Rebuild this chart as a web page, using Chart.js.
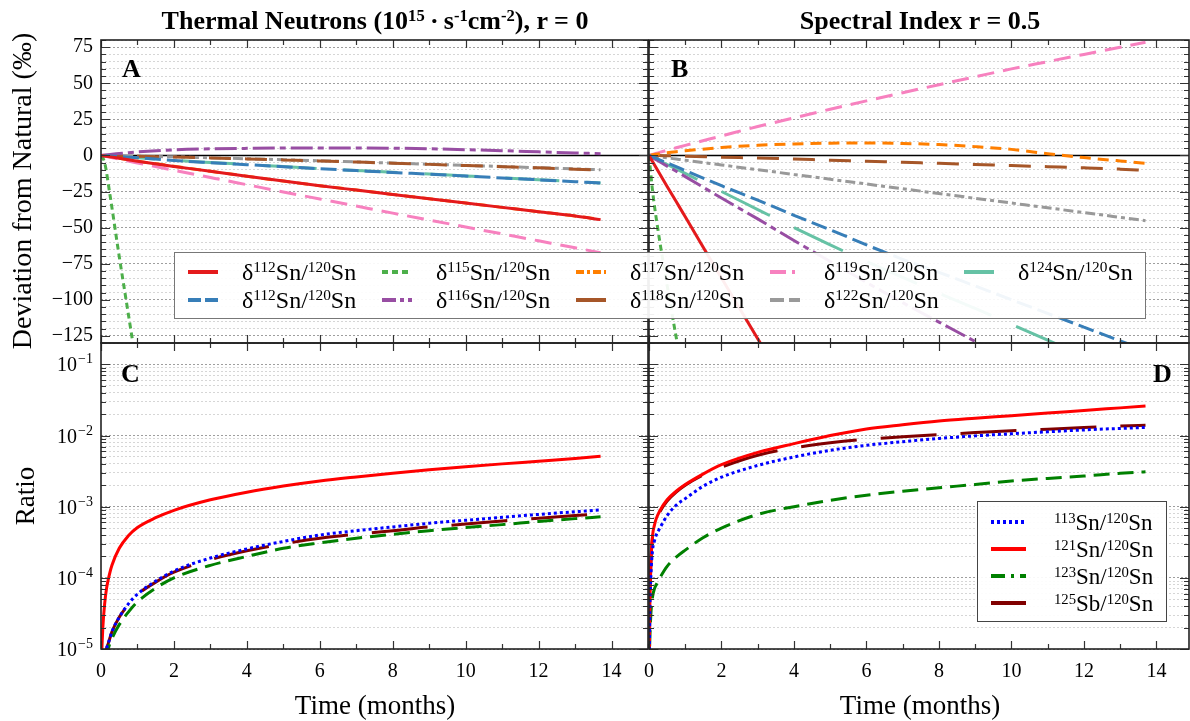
<!DOCTYPE html>
<html>
<head>
<meta charset="utf-8">
<title>Sn isotope deviations and ratios</title>
<script src="https://cdn.jsdelivr.net/npm/chart.js@4.4.1/dist/chart.umd.min.js"></script>
<style>
  html, body { margin: 0; padding: 0; background: #fff; }
  body { width: 1190px; height: 721px; position: relative; overflow: hidden;
         font-family: 'Liberation Serif', 'Times New Roman', serif; color: #000; }
  canvas { position: absolute; left: 0; top: 0; }
  .lbl { position: absolute; white-space: nowrap; line-height: 1; }
  .head { font-weight: bold; font-size: 26px; transform: translate(-50%, -50%); }
  .tag { font-weight: bold; font-size: 26px; transform: translateY(-50%); }
  .axt { font-size: 27px; transform: translate(-50%, -50%); }
  .vert { transform: translate(-50%, -50%) rotate(-90deg); }
  .up { font-size: 0.64em; position: relative; top: -0.5em; }
  .legend { position: absolute; background: rgba(255,255,255,0.93); border: 1px solid #777; box-sizing: border-box; }
  .key, .txt { position: absolute; transform: translateY(-50%); white-space: nowrap; line-height: 1; }
  .key svg { display: block; }
  .txt { font-size: 24px; }
  #ratioLegend .txt { font-size: 23px; }
</style>
</head>
<body>
<canvas id="panelA" width="1190" height="721"></canvas>
<canvas id="panelB" width="1190" height="721"></canvas>
<canvas id="panelC" width="1190" height="721"></canvas>
<canvas id="panelD" width="1190" height="721"></canvas>

<div class="lbl head" style="left:375px;top:21px">Thermal Neutrons (10<span class="up">15</span>&#8201;·&#8201;s<span class="up">-1</span>cm<span class="up">-2</span>), r = 0</div>
<div class="lbl head" style="left:920px;top:21px">Spectral Index r = 0.5</div>

<div class="lbl tag" style="left:122px;top:69px">A</div>
<div class="lbl tag" style="left:671px;top:69px">B</div>
<div class="lbl tag" style="left:121px;top:374px">C</div>
<div class="lbl tag" style="left:1153px;top:374px">D</div>

<div class="lbl axt vert" style="left:22px;top:191px;font-size:28px">Deviation from Natural (‰)</div>
<div class="lbl axt vert" style="left:25px;top:496px">Ratio</div>
<div class="lbl axt" style="left:375px;top:705px">Time (months)</div>
<div class="lbl axt" style="left:920px;top:705px">Time (months)</div>

<div id="devLegend" class="legend" style="left:174px;top:252px;width:972px;height:67px"></div>
<div id="ratioLegend" class="legend" style="left:977px;top:501px;width:190px;height:121px;border-color:#444"></div>

<script>
// time axis for the per-mil deviations (months)
const months = [0, 0.1, 0.25, 0.5, 0.75, 1, 2, 3, 4, 5, 6, 7, 8, 9, 10, 11, 12, 13, 13.7];

// thermal neutrons, r = 0 (per mil vs natural)
const thermal112  = [0, -0.4, -1, -2, -3, -4, -7.6, -11, -14.5, -17.8, -21, -24, -27, -30, -33, -36, -39, -42, -44.5];
const thermal112b = [0, -0.15, -0.4, -0.8, -1.2, -1.6, -3.5, -5, -6.4, -7.8, -9.2, -10.5, -11.8, -13, -14.3, -15.6, -16.9, -18.2, -19.2];
const thermal115  = [0, -5, -28, -70, -110, -150, null, null, null, null, null, null, null, null, null, null, null, null, null];
const thermal116  = [0, 0.3, 0.7, 1.3, 1.9, 2.4, 3.9, 4.6, 4.9, 5.1, 5.2, 5.2, 5.0, 4.6, 4.0, 3.3, 2.5, 1.7, 1.2];
const thermal117  = [0, -0.4, -1, -2, -3, -4, -7.5, -11, -14.4, -17.8, -21, -24, -27, -30, -33, -36, -39, -42, -44.3];
const thermal118  = [0, -0.05, -0.1, -0.25, -0.4, -0.5, -1.1, -1.7, -2.4, -3.1, -3.8, -4.6, -5.4, -6.2, -7, -7.8, -8.6, -9.5, -10.2];
const thermal119  = [0, -0.5, -1.3, -2.6, -3.9, -5.2, -10.3, -15.3, -20.3, -25.3, -30.2, -35.1, -40, -44.8, -49.6, -54.4, -59.2, -64, -67.5];
const thermal122  = [0, -0.05, -0.1, -0.2, -0.35, -0.5, -1, -1.6, -2.3, -3, -3.7, -4.5, -5.3, -6.1, -6.9, -7.7, -8.5, -9.3, -10];
const thermal124  = [0, -0.15, -0.4, -0.8, -1.2, -1.6, -3.4, -4.9, -6.3, -7.7, -9.1, -10.4, -11.7, -12.9, -14.2, -15.5, -16.8, -18.1, -19.1];

// spectral index r = 0.5 (per mil vs natural)
const spectral112  = [0, -4.3, -10.8, -21.5, -32, -42.5, -85, -127, -168, null, null, null, null, null, null, null, null, null, null];
const spectral112b = [0, -1, -2.6, -5.2, -7.8, -10.5, -21, -31, -41.5, -51.5, -62, -72, -81, -90.5, -100, -109.5, -119, -128.5, -135];
const spectral115  = [0, -25, -52, -90, -126, -160, null, null, null, null, null, null, null, null, null, null, null, null, null];
const spectral116  = [0, -1.5, -3.7, -7.4, -11, -14.7, -29.5, -44, -59, -73.5, -88, -102, -115.5, -129, -143, null, null, null, null];
const spectral117  = [0, 0.4, 1, 1.9, 2.6, 3.2, 5.5, 7, 8, 8.5, 8.6, 8.3, 7.5, 6.1, 4.2, 1.2, -1.5, -3.8, -5.4];
const spectral118  = [0, -0.05, -0.1, -0.25, -0.4, -0.5, -1.2, -1.8, -2.5, -3.3, -4, -4.8, -5.5, -6.3, -7, -7.8, -8.6, -9.5, -10.3];
const spectral119  = [0, 0.7, 1.8, 3.6, 5.3, 7, 13.5, 20, 26, 32, 37.8, 43.5, 49, 54.5, 60, 65, 70, 75, 78.5];
const spectral122  = [0, -0.35, -0.85, -1.7, -2.5, -3.3, -6.6, -9.9, -13.2, -16.5, -19.8, -23.1, -26.4, -29.7, -33, -36.3, -39.6, -42.9, -45.2];
const spectral124  = [0, -1.3, -3.2, -6.3, -9.4, -12.5, -25, -37.5, -50, -62, -73.5, -84.5, -95.5, -106, -117, -128, -139, null, null];

// time axis for the abundance ratios (months)
const ratioMonths = [0.005, 0.02, 0.05, 0.1, 0.15, 0.2, 0.3, 0.5, 0.75, 1, 1.5, 2, 3, 4, 5, 6, 7, 8, 9, 10, 11, 12, 13, 13.7];

const thermal113   = [null, null, null, 7e-6, 1e-5, 1.2e-5, 1.75e-5, 2.8e-5, 4.3e-5, 5.9e-5, 9e-5, 1.25e-4, 1.9e-4, 2.55e-4, 3.25e-4, 4.0e-4, 4.6e-4, 5.2e-4, 5.85e-4, 6.45e-4, 7.1e-4, 7.8e-4, 8.5e-4, 9e-4];
const thermal121   = [null, 9e-6, 2e-5, 4.3e-5, 7e-5, 9.5e-5, 1.5e-4, 2.6e-4, 3.9e-4, 5.1e-4, 7e-4, 8.9e-4, 1.25e-3, 1.6e-3, 1.95e-3, 2.3e-3, 2.62e-3, 2.95e-3, 3.3e-3, 3.65e-3, 4e-3, 4.35e-3, 4.75e-3, 5.1e-3];
const thermal123   = [null, null, null, null, 7e-6, 1e-5, 1.4e-5, 2.2e-5, 3.3e-5, 4.6e-5, 7.2e-5, 1e-4, 1.5e-4, 2e-4, 2.6e-4, 3.1e-4, 3.6e-4, 4.1e-4, 4.6e-4, 5.1e-4, 5.6e-4, 6.2e-4, 6.8e-4, 7.2e-4];
const thermalSb125 = [null, null, null, 7e-6, 1e-5, 1.2e-5, 1.75e-5, 2.8e-5, 4.2e-5, 5.8e-5, 8.7e-5, 1.2e-4, 1.8e-4, 2.4e-4, 3e-4, 3.6e-4, 4.1e-4, 4.6e-4, 5.2e-4, 5.7e-4, 6.3e-4, 6.9e-4, 7.5e-4, 7.9e-4];

const spectral113   = [3e-6, 2.5e-5, 1e-4, 2.5e-4, 3.3e-4, 4e-4, 5e-4, 7.5e-4, 1.05e-3, 1.3e-3, 1.95e-3, 2.6e-3, 3.8e-3, 5e-3, 6.2e-3, 7.3e-3, 8.2e-3, 9.1e-3, 9.9e-3, 1.06e-2, 1.13e-2, 1.2e-2, 1.26e-2, 1.3e-2];
const spectral121   = [5e-6, 3e-5, 1.5e-4, 4e-4, 5.5e-4, 6.8e-4, 8.8e-4, 1.25e-3, 1.65e-3, 2.05e-3, 2.9e-3, 3.9e-3, 5.8e-3, 7.7e-3, 1.0e-2, 1.24e-2, 1.42e-2, 1.6e-2, 1.75e-2, 1.9e-2, 2.07e-2, 2.25e-2, 2.45e-2, 2.6e-2];
const spectral123   = [5e-6, 1.2e-5, 3e-5, 5.5e-5, 7e-5, 8e-5, 1e-4, 1.45e-4, 1.95e-4, 2.45e-4, 3.7e-4, 5e-4, 7.8e-4, 1e-3, 1.23e-3, 1.45e-3, 1.65e-3, 1.85e-3, 2.05e-3, 2.3e-3, 2.5e-3, 2.7e-3, 2.95e-3, 3.1e-3];
const spectralSb125 = [5e-6, 3e-5, 1.5e-4, 3.9e-4, 5.3e-4, 6.5e-4, 8.5e-4, 1.2e-3, 1.6e-3, 2e-3, 2.8e-3, 3.6e-3, 5.3e-3, 6.7e-3, 7.9e-3, 8.9e-3, 9.6e-3, 1.03e-2, 1.1e-2, 1.17e-2, 1.23e-2, 1.3e-2, 1.36e-2, 1.4e-2];

// legend / tick text
const devMass = ['112', '112', '115', '116', '117', '118', '119', '122', '124'];
const ratioMass = ['113', '121', '123', '125'];
const ratioElem = ['Sn', 'Sn', 'Sn', 'Sb'];
const monthTicks = [0, 1, 2, 3, 4, 5, 6, 7, 8, 9, 10, 11, 12, 13, 14, 15];
const decades = [1e-5, 1e-4, 1e-3, 1e-2, 1e-1];

// line styles
const devColors = ['#e41a1c', '#377eb8', '#4daf4a', '#984ea3', '#ff7f00', '#a65628', '#f781bf', '#999999', '#66c2a5'];
const devDashes = [[], [16, 6], [6, 4], [22, 5, 6, 5], [11, 7], [22, 14], [17, 9], [10, 4, 4, 4], [54, 27]];
const devKeyDashes = [[], [13, 4], [6, 4], [14, 4, 4, 4], [8, 3, 3, 3], [], [16, 6, 3, 6], [14, 5], []];
const ratioColors = ['#0000ff', '#ff0000', '#008000', '#800000'];
const ratioDashes = [[3, 3], [], [16, 8], [56, 24]];
const ratioKeyDashes = [[3, 3], [], [14, 6, 3, 6], []];

const FONT = 'Liberation Serif';

function series(times, vals) {
  return times.map((t, i) => ({ x: t, y: vals[i] }));
}

function line(times, vals, color, dash, order) {
  return {
    data: series(times, vals),
    borderColor: color, borderDash: dash, borderWidth: 3,
    pointRadius: 0, fill: false, cubicInterpolationMode: 'monotone',
    borderCapStyle: 'butt', clip: 0, order: order || 0
  };
}

// fixed-size scale boxes, so the chart area sits exactly inside the padding
function fixed(size) {
  return scale => {
    if (scale.isHorizontal()) scale.height = size; else scale.width = size;
    scale.paddingLeft = scale.paddingRight = scale.paddingTop = scale.paddingBottom = 0;
  };
}

function isDecade(v) {
  const e = Math.log10(v);
  return Math.abs(e - Math.round(e)) < 1e-6;
}

function xAxis(max, labels, size) {
  return {
    type: 'linear', min: 0, max: max,
    grid: { display: false }, border: { display: false },
    ticks: {
      autoSkip: false, display: labels, padding: 3, color: '#000', maxRotation: 0,
      font: { family: FONT, size: 20 },
      callback: v => v % 2 === 0 ? String(v) : ''
    },
    afterBuildTicks: s => { s.ticks = monthTicks.filter(m => m <= s.max).map(m => ({ value: m })); },
    afterFit: fixed(size)
  };
}

function devAxis(labels, size) {
  return {
    type: 'linear', min: -130, max: 80,
    grid: {
      drawTicks: false, lineWidth: 1,
      color: c => (c.tick && c.tick.value % 25 === 0) ? 'rgba(0,0,0,0.38)' : 'rgba(0,0,0,0.16)'
    },
    border: { display: false, dash: [2, 2] },
    ticks: {
      stepSize: 5, autoSkip: false, display: labels, padding: 8, color: '#000',
      font: { family: FONT, size: 20 },
      callback: v => v % 25 === 0 ? (v < 0 ? '\u2212' + Math.abs(v) : String(v)) : ''
    },
    afterFit: fixed(size)
  };
}

function ratioAxis(size) {
  return {
    type: 'logarithmic', min: 1e-5, max: 0.2,
    grid: {
      drawTicks: false, lineWidth: 1,
      color: c => (c.tick && isDecade(c.tick.value)) ? 'rgba(0,0,0,0.38)' : 'rgba(0,0,0,0.16)'
    },
    border: { display: false, dash: [2, 2] },
    ticks: { display: false },
    afterBuildTicks: s => {
      s.ticks = [];
      decades.forEach(d => {
        for (let m = 1; m <= 9; m++) {
          const v = d * m;
          if (v <= s.max * 1.0001) s.ticks.push({ value: v });
        }
      });
    },
    afterFit: fixed(size)
  };
}

// frame, inward ticks on all four sides and the zero line
const axesFrame = {
  id: 'axesFrame',
  beforeDatasetsDraw(chart, args, opts) {
    if (!opts.zero) return;
    const { ctx, chartArea: a, scales: { y } } = chart;
    const py = y.getPixelForValue(0);
    ctx.save();
    ctx.strokeStyle = '#000'; ctx.lineWidth = 1.6;
    ctx.beginPath(); ctx.moveTo(a.left, py); ctx.lineTo(a.right, py); ctx.stroke();
    ctx.restore();
  },
  afterDatasetsDraw(chart, args, opts) {
    const { ctx, chartArea: a, scales: { x, y } } = chart;
    ctx.save();
    ctx.strokeStyle = '#333'; ctx.lineWidth = 1.2;
    ctx.beginPath();
    x.ticks.forEach(t => {
      const px = Math.round(x.getPixelForValue(t.value)) + 0.5;
      const len = t.value % 2 === 0 ? 8 : 5;
      ctx.moveTo(px, a.bottom); ctx.lineTo(px, a.bottom - len);
      ctx.moveTo(px, a.top); ctx.lineTo(px, a.top + len);
    });
    y.ticks.forEach(t => {
      const py = Math.round(y.getPixelForValue(t.value)) + 0.5;
      const major = opts.log ? isDecade(t.value) : t.value % 25 === 0;
      const len = major ? 9 : 5;
      ctx.moveTo(a.left, py); ctx.lineTo(a.left + len, py);
      ctx.moveTo(a.right, py); ctx.lineTo(a.right - len, py);
    });
    ctx.stroke();
    ctx.lineWidth = 1.6; ctx.strokeStyle = '#222';
    ctx.strokeRect(a.left, a.top, a.right - a.left, a.bottom - a.top);
    ctx.restore();
  }
};

// "10" with a raised exponent for the decade ticks
const powerTicks = {
  id: 'powerTicks',
  afterDraw(chart) {
    const { ctx, chartArea: a, scales: { y } } = chart;
    ctx.save();
    ctx.fillStyle = '#000'; ctx.textAlign = 'right'; ctx.textBaseline = 'alphabetic';
    y.ticks.forEach(t => {
      if (!isDecade(t.value)) return;
      const py = y.getPixelForValue(t.value);
      const exp = '\u2212' + Math.abs(Math.round(Math.log10(t.value)));
      const right = a.left - 8;
      ctx.font = '14px "' + FONT + '"';
      const ew = ctx.measureText(exp).width;
      ctx.fillText(exp, right, py - 1);
      ctx.font = '20px "' + FONT + '"';
      ctx.fillText('10', right - ew - 1, py + 7);
    });
    ctx.restore();
  }
};

function makeChart(id, pad, scales, datasets, frameOpts, extra) {
  return new Chart(document.getElementById(id), {
    type: 'line',
    data: { datasets: datasets },
    options: {
      responsive: false, animation: false, devicePixelRatio: 1,
      layout: { padding: pad, autoPadding: false },
      scales: scales,
      plugins: { legend: { display: false }, tooltip: { enabled: false }, axesFrame: frameOpts }
    },
    plugins: [axesFrame].concat(extra || [])
  });
}

const thermalDev = [thermal112, thermal112b, thermal115, thermal116, thermal117, thermal118, thermal119, thermal122, thermal124];
const spectralDev = [spectral112, spectral112b, spectral115, spectral116, spectral117, spectral118, spectral119, spectral122, spectral124];
// series lying underneath another one in panel A
const thermalOrder = [0, 0, 0, 0, 5, 0, 0, 5, 5];

makeChart('panelA', { left: 0, top: 40, right: 542, bottom: 378 },
  { x: xAxis(15, false, 0), y: devAxis(true, 101) },
  thermalDev.map((v, i) => line(months, v, devColors[i], devDashes[i], thermalOrder[i])),
  { zero: true });

makeChart('panelB', { left: 649, top: 40, right: 1, bottom: 378 },
  { x: xAxis(14.9, false, 0), y: devAxis(false, 0) },
  spectralDev.map((v, i) => line(months, v, devColors[i], devDashes[i])),
  { zero: true });

makeChart('panelC', { left: 0, top: 343, right: 542, bottom: 0 },
  { x: xAxis(15, true, 72), y: ratioAxis(101) },
  [thermal113, thermal121, thermal123, thermalSb125].map((v, i) => line(ratioMonths, v, ratioColors[i], ratioDashes[i])),
  { log: true }, [powerTicks]);

makeChart('panelD', { left: 649, top: 343, right: 1, bottom: 0 },
  { x: xAxis(14.9, true, 72), y: ratioAxis(0) },
  [spectral113, spectral121, spectral123, spectralSb125].map((v, i) => line(ratioMonths, v, ratioColors[i], ratioDashes[i])),
  { log: true });

// legends
function sample(color, dash, len) {
  return '<svg width="' + len + '" height="8"><line x1="0" y1="4" x2="' + len + '" y2="4" stroke="' + color +
    '" stroke-width="4" stroke-dasharray="' + (dash.length ? dash.join(' ') : 'none') + '"/></svg>';
}

const devLegend = document.getElementById('devLegend');
devMass.forEach((m, i) => {
  const col = Math.floor(i / 2), row = i % 2;
  const left = 13 + col * 194, top = 19 + row * 28;
  devLegend.insertAdjacentHTML('beforeend',
    '<div class="key" style="left:' + left + 'px;top:' + top + 'px">' + sample(devColors[i], devKeyDashes[i], 30) + '</div>' +
    '<div class="txt" style="left:' + (left + 54) + 'px;top:' + top + 'px">δ<span class="up">' + m +
    '</span>Sn/<span class="up">120</span>Sn</div>');
});

const ratioLegend = document.getElementById('ratioLegend');
ratioMass.forEach((m, i) => {
  const top = 20 + i * 27;
  ratioLegend.insertAdjacentHTML('beforeend',
    '<div class="key" style="left:13px;top:' + top + 'px">' + sample(ratioColors[i], ratioKeyDashes[i], 35) + '</div>' +
    '<div class="txt" style="left:76px;top:' + top + 'px"><span class="up">' + m + '</span>' + ratioElem[i] +
    '/<span class="up">120</span>Sn</div>');
});
</script>
</body>
</html>
